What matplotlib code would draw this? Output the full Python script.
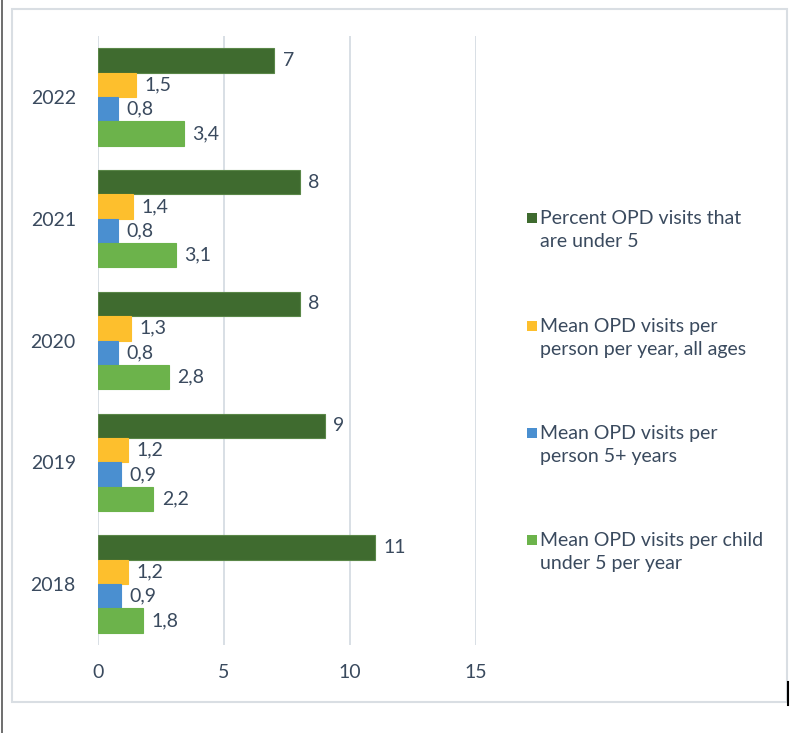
import matplotlib
matplotlib.use("Agg")
import matplotlib.pyplot as plt
from matplotlib.patches import Rectangle
from matplotlib.lines import Line2D
import numpy as np

plt.rcParams["font.family"] = ["Lato", "DejaVu Sans"]

# ── data ─────────────────────────────────────────────────────────────────────
years = ["2018", "2019", "2020", "2021", "2022"]
pct_under5   = [11, 9, 8, 8, 7]
mean_all     = [1.2, 1.2, 1.3, 1.4, 1.5]
mean_5plus   = [0.9, 0.9, 0.8, 0.8, 0.8]
mean_child   = [1.8, 2.2, 2.8, 3.1, 3.4]

labels = [
    "Percent OPD visits that\nare under 5",
    "Mean OPD visits per\nperson per year, all ages",
    "Mean OPD visits per\nperson 5+ years",
    "Mean OPD visits per child\nunder 5 per year",
]
colors = ["#3F6B2F", "#FDBF2D", "#4A8FD0", "#6CB34B"]
edges  = ["#5A8748", "#FDBF2D", "#4A8FD0", "#6CB34B"]
TEXT = "#3A4A5E"
GRID = "#D5DCE3"
FS = 14

W, H = 805, 733
fig = plt.figure(figsize=(W / 100, H / 100), dpi=100)

# outer frame lines
fig.add_artist(Line2D([1.5 / W, 1.5 / W], [0, 1], color="#555555", lw=1.2))
fig.add_artist(Rectangle((12 / W, 1 - 702 / H), (787 - 12) / W, (702 - 9) / H,
                         fill=False, edgecolor="#D9DEE3", lw=1.5))
fig.add_artist(Line2D([788 / W, 788 / W], [1 - 705 / H, 1 - 682 / H], color="black", lw=1.5))

ax = fig.add_axes([98 / W, 1 - 645 / H, (476 - 98) / W, (645 - 36) / H])

y = np.arange(len(years))
h = 0.2
series = [pct_under5, mean_all, mean_5plus, mean_child]
offsets = [0.3, 0.1, -0.1, -0.3]
for vals, off, c, ec in zip(series, offsets, colors, edges):
    bars = ax.barh(y + off, vals, h, color=c, edgecolor=ec, linewidth=0.8, zorder=3)
    for b, v in zip(bars, vals):
        ax.annotate(f"{v:g}".replace(".", ","), (v, b.get_y() + b.get_height() / 2),
                    textcoords="offset points", xytext=(6, 0), ha="left", va="center",
                    fontsize=FS, color=TEXT)

ax.set_xlim(0, 15)
ax.set_ylim(-0.5, 4.5)
ax.set_xticks([0, 5, 10, 15])
ax.set_yticks(y)
ax.set_yticklabels(years)
ax.tick_params(axis="both", length=0, labelsize=FS, labelcolor=TEXT)
ax.tick_params(axis="x", pad=14)
ax.tick_params(axis="y", pad=16)
ax.grid(axis="x", color=GRID, lw=1.3, zorder=0)
for s in ax.spines.values():
    s.set_visible(False)

# legend drawn by hand: marker aligned with the first text line
leg_y = [218, 326, 433, 540]
for lab, c, ly in zip(labels, colors, leg_y):
    fig.add_artist(Rectangle((527 / W, 1 - (ly + 5) / H), 10 / W, 10 / H,
                             color=c, lw=0))
    fig.text(540 / W, 1 - (ly - 8) / H, lab, ha="left", va="top",
             fontsize=FS, color=TEXT, linespacing=1.4)

plt.savefig("out.png", dpi=100)
